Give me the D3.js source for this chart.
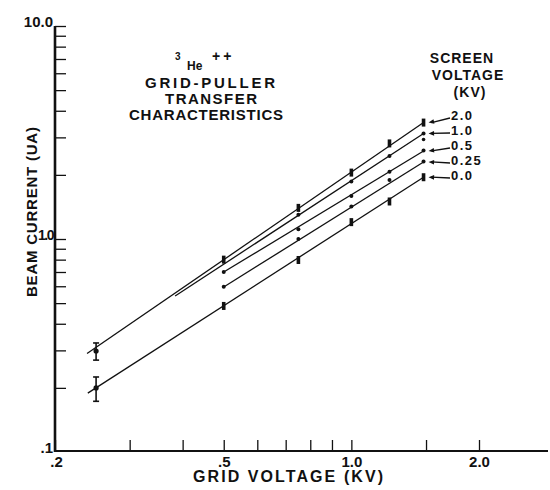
<!DOCTYPE html>
<html><head><meta charset="utf-8">
<script src="https://cdn.jsdelivr.net/npm/d3@7"></script>
<style>
html,body{margin:0;padding:0;background:#fff;}
svg{display:block;}
text{font-family:"Liberation Sans","DejaVu Sans",sans-serif;fill:#111;}
</style></head>
<body>
<svg id="chart" width="550" height="490"></svg>
<script>
// ---- data ----
const seriesNames = ["2.0", "1.0", "0.5", "0.25", "0.0"];          // screen voltage (KV)
const gridVoltage = [0.25, 0.5, 0.75, 1.0, 1.23, 1.48];             // grid voltage (KV)
const current20  = [0.298, 0.80, 1.40, 2.05, 2.81, 3.52];
const current10  = [null, null, 1.30, 1.86, 2.45, 3.13];
const current05  = [null, 0.70, 1.11, 1.59, 2.07, 2.60];
const current025 = [null, 0.597, 1.00, 1.42, 1.89, 2.31];
const current00  = [0.200, 0.485, 0.797, 1.20, 1.50, 1.95];
// fitted lines (start grid V, start current, end grid V, end current)
const fitStartV = [0.238, 0.384, 0.50, 0.50, 0.239];
const fitStartI = [0.29, 0.54, 0.70, 0.595, 0.189];
const fitEndV   = [1.48, 1.48, 1.48, 1.48, 1.48];
const fitEndI   = [3.52, 3.13, 2.59, 2.30, 1.95];
// error bars at the lowest grid voltage
const errV  = [0.25, 0.25];
const errLo = [0.270, 0.173];
const errHi = [0.325, 0.225];
// extra unconnected point
const strayV = [1.48];
const strayI = [2.93];
// ticks
const xTicks = [0.2, 0.3, 0.4, 0.5, 0.6, 0.7, 0.8, 0.9, 1.0, 1.5, 2.0];
const xTickLabels = {0.2: ".2", 0.5: ".5", 1.0: "1.0", 2.0: "2.0"};
const yTicks = [0.1,0.2,0.3,0.4,0.5,0.6,0.7,0.8,0.9,1,2,3,4,5,6,7,8,9,10];
const yTickLabels = {0.1: ".1", 1: "1.0", 10: "10.0"};

const seriesValues = [current20, current10, current05, current025, current00];
const barMarker = [true, false, false, false, true];

// ---- scales ----
const svg = d3.select("#chart");
svg.append("rect").attr("width",550).attr("height",490).attr("fill","#fff");
const x = d3.scaleLog().domain([0.2, 2.0]).range([55, 479]);
const y = d3.scaleLog().domain([0.1, 10]).range([452, 26]);
const xEnd = 548;

// ---- axes ----
const xAxis = d3.axisBottom(x).tickValues(xTicks).tickSizeInner(-11).tickSizeOuter(0)
  .tickPadding(5).tickFormat(d => xTickLabels[d] || "");
const gx = svg.append("g").attr("transform", "translate(0,451)").call(xAxis);
gx.select(".domain").remove();
gx.selectAll(".tick line").attr("stroke","#111").attr("stroke-width",1.3);
gx.selectAll("text").attr("font-size",15).attr("font-weight","bold").attr("fill","#111");
gx.selectAll(".tick").filter(d => d === 0.2).select("text").attr("dx", 1);
svg.append("line").attr("x1",54).attr("x2",xEnd).attr("y1",451).attr("y2",451)
  .attr("stroke","#111").attr("stroke-width",2.2);

const yAxis = d3.axisLeft(y).tickValues(yTicks).tickSizeInner(-11).tickSizeOuter(0)
  .tickPadding(2).tickFormat(d => yTickLabels[d] || "");
const gy = svg.append("g").attr("transform", "translate(55,0)").call(yAxis);
gy.select(".domain").remove();
gy.selectAll(".tick line").attr("stroke","#111").attr("stroke-width",1.3);
gy.selectAll(".tick").filter(d => d === 0.1).select("line").remove();
gy.selectAll("text").attr("font-size",15).attr("font-weight","bold").attr("dy","0.05em").attr("fill","#111");
gy.selectAll(".tick").filter(d => d === 1).select("text")
  .attr("font-size",14).attr("letter-spacing",-1.5);
svg.append("line").attr("x1",55).attr("x2",55).attr("y1",y(10)).attr("y2",452)
  .attr("stroke","#111").attr("stroke-width",2.6);

// ---- fitted lines ----
const lineGen = d3.line().x(d => x(d[0])).y(d => y(d[1]));
seriesNames.forEach((n,i) => {
  svg.append("path")
    .attr("d", lineGen([[fitStartV[i], fitStartI[i]], [fitEndV[i], fitEndI[i]]]))
    .attr("fill","none").attr("stroke","#111").attr("stroke-width",1.3);
});

// ---- error bars ----
errV.forEach((v,i) => {
  const g = svg.append("g").attr("stroke","#111").attr("stroke-width",1.6);
  g.append("line").attr("x1",x(v)).attr("x2",x(v)).attr("y1",y(errLo[i])).attr("y2",y(errHi[i]));
  g.append("line").attr("x1",x(v)-3).attr("x2",x(v)+3).attr("y1",y(errLo[i])).attr("y2",y(errLo[i]));
  g.append("line").attr("x1",x(v)-3).attr("x2",x(v)+3).attr("y1",y(errHi[i])).attr("y2",y(errHi[i]));
});

// ---- points ----
seriesValues.forEach((vals,i) => {
  vals.forEach((v,j) => {
    if (v == null) return;
    const cx = x(gridVoltage[j]), cy = y(v);
    if (barMarker[i] && j > 0) {
      svg.append("rect").attr("x",cx-1.8).attr("y",cy-4).attr("width",3.6).attr("height",8).attr("fill","#111");
    } else {
      svg.append("circle").attr("cx",cx).attr("cy",cy).attr("r", j === 0 ? 2.6 : 2).attr("fill","#111");
    }
  });
});
strayV.forEach((v,i) => {
  svg.append("circle").attr("cx",x(v)).attr("cy",y(strayI[i])).attr("r",1.8).attr("fill","#111");
});

// ---- legend ----
const lg = svg.append("g");
[["SCREEN",63,462],["VOLTAGE",80,468],["(KV)",97,470]].forEach(t => {
  lg.append("text").attr("x",t[2]).attr("y",t[1]).attr("text-anchor","middle")
    .attr("font-size",14).attr("font-weight","bold").attr("letter-spacing",1).text(t[0]);
});
seriesNames.forEach((n,i) => {
  const ly = 120 + i*15;
  const px = x(fitEndV[i]) + 5, py = y(fitEndI[i]);
  lg.append("text").attr("x",451).attr("y",ly).attr("font-size",13).attr("font-weight","bold")
    .attr("letter-spacing",1.5).text(n);
  lg.append("line").attr("x1",450).attr("y1",ly-2).attr("x2",px+3).attr("y2",py)
    .attr("stroke","#111").attr("stroke-width",1.3);
  const ang = Math.atan2(py-(ly-2), px-450);
  const hx = px, hy = py;
  const a1 = ang + 0.4, a2 = ang - 0.4, L = 6;
  lg.append("path").attr("d",`M${hx},${hy}L${hx - L*Math.cos(a1)},${hy - L*Math.sin(a1)}L${hx - L*Math.cos(a2)},${hy - L*Math.sin(a2)}Z`)
    .attr("fill","#111");
});

// ---- title ----
const tg = svg.append("g").attr("font-weight","bold");
tg.append("text").attr("x",175).attr("y",60).attr("font-size",10).text("3");
tg.append("text").attr("x",187).attr("y",70).attr("font-size",12).text("He");
tg.append("text").attr("x",212).attr("y",61).attr("font-size",14).attr("letter-spacing",3).text("++");
[["GRID-PULLER",88,210,130],["TRANSFER",104,211,92],["CHARACTERISTICS",120,206,154]].forEach(t => {
  tg.append("text").attr("x",t[2]).attr("y",t[1]).attr("text-anchor","middle").attr("font-size",15)
    .attr("textLength",t[3]).attr("lengthAdjust","spacing").text(t[0]);
});

// ---- axis titles ----
svg.append("text").attr("transform","translate(37,212) rotate(-90)").attr("text-anchor","middle")
  .attr("font-size",15).attr("font-weight","bold").attr("textLength",170).attr("lengthAdjust","spacing")
  .text("BEAM CURRENT (UA)");
svg.append("text").attr("x",288).attr("y",482).attr("text-anchor","middle")
  .attr("font-size",16).attr("font-weight","bold").attr("textLength",190).attr("lengthAdjust","spacing")
  .text("GRID VOLTAGE (KV)");
</script>
</body></html>
